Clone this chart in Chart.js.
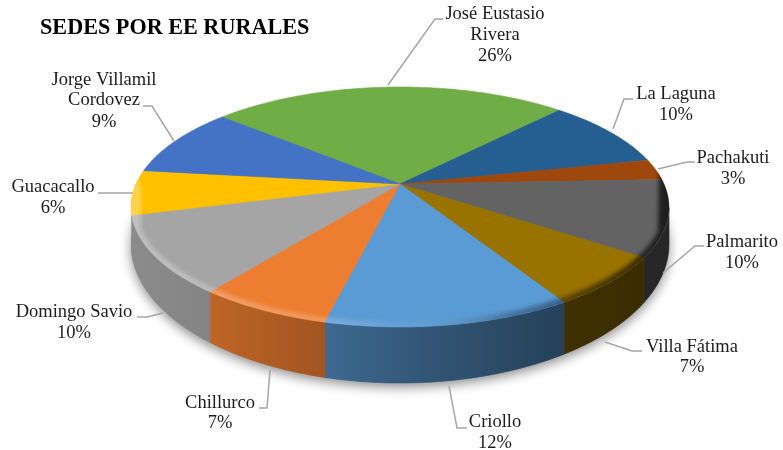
<!DOCTYPE html>
<html>
<head>
<meta charset="utf-8">
<title>Sedes por EE rurales</title>
<script src="https://cdn.jsdelivr.net/npm/chart.js@4"></script>
<style>
html, body { margin: 0; padding: 0; background: #fff; }
canvas { display: block; }
</style>
</head>
<body>
<canvas id="pie" width="783" height="450"></canvas>
<script>
// ---------- DATA ----------

const categories = ["José Eustasio Rivera", "La Laguna", "Pachakuti", "Palmarito", "Villa Fátima",
  "Criollo", "Chillurco", "Domingo Savio", "Guacacallo", "Jorge Villamil Cordovez"];
const sedes = [25.7, 9.5, 2.8, 10.2, 6.7, 12.4, 6.7, 10.4, 6.0, 9.4];
const colors = ["#70ad47", "#255e91", "#9e480e", "#636363", "#997300",
  "#5b9bd5", "#ed7d31", "#a5a5a5", "#ffc000", "#4472c4"];
const titleText = "SEDES POR EE RURALES";

// ---------- LABEL LAYOUT ----------

// text lines, centre x, centre y of each line, then the leader line
const labelLayout = [
  { lines: ["José Eustasio", "Rivera"], x: 495, y: [13, 34, 55], leader: [[443, 19], [435, 19], [388, 85]] },
  { lines: ["La Laguna"], x: 676, y: [93, 114], leader: [[633, 99], [624, 99], [613, 129]] },
  { lines: ["Pachakuti"], x: 733, y: [157, 178], leader: [[695, 162], [687, 162], [658, 169]] },
  { lines: ["Palmarito"], x: 742, y: [241, 262], leader: [[704, 246], [695, 246], [663, 273]] },
  { lines: ["Villa Fátima"], x: 692, y: [346, 366], leader: [[642, 351], [632, 351], [605, 342]] },
  { lines: ["Criollo"], x: 495, y: [421, 442], leader: [[467, 428], [457, 428], [449, 386]] },
  { lines: ["Chillurco"], x: 220, y: [402, 422], leader: [[259, 408], [267, 408], [270, 370]] },
  { lines: ["Domingo Savio"], x: 74, y: [311, 332], leader: [[137, 317], [147, 317], [163, 313]] },
  { lines: ["Guacacallo"], x: 53, y: [186, 207], leader: [[98, 193], [133, 193]] },
  { lines: ["Jorge Villamil", "Cordovez"], x: 104, y: [79, 99, 121], leader: [[143, 106], [152, 106], [174, 141]] }
];

// ---------- 3D PROJECTION ----------

const apex = { x: 400, y: 184 };     // where the slices meet
const persp = 0.1917;                // front of the disc looks larger than the back
const scaleX = 264, scaleY = 115.6;
const topRim = { x: 401, y: 207, rx: 268, ry: 120 };
const bottomRim = { x: 401, y: 244, rx: 268, ry: 139 };

function project(angle){
  let u = Math.cos(angle), v = Math.sin(angle);
  let w = 1 - persp * v;
  return { x: apex.x + scaleX * u / w, y: apex.y + scaleY * v / w };
}

function dropToBottom(p){
  let sy = (p.y - topRim.y) / topRim.ry;
  return { x: p.x, y: bottomRim.y + bottomRim.ry * sy };
}

function rimPoints(start, end){
  let pts = [];
  let steps = Math.max(2, Math.ceil((end - start) / 0.01));
  for(let i = 0; i <= steps; i++){
    pts.push(project(start + (end - start) * i / steps));
  }
  return pts;
}

function shade(hex, f){
  let n = parseInt(hex.slice(1), 16);
  let r = Math.round(((n >> 16) & 255) * f);
  let g = Math.round(((n >> 8) & 255) * f);
  let b = Math.round((n & 255) * f);
  return "rgb(" + r + "," + g + "," + b + ")";
}

function tracePolygon(ctx, pts){
  ctx.beginPath();
  pts.forEach((p, i) => i ? ctx.lineTo(p.x, p.y) : ctx.moveTo(p.x, p.y));
  ctx.closePath();
}

function wallGradient(ctx, color){
  let g = ctx.createLinearGradient(133, 0, 670, 0);
  g.addColorStop(0, shade(color, 0.84));
  g.addColorStop(0.15, shade(color, 0.8));
  g.addColorStop(0.36, shade(color, 0.68));
  g.addColorStop(0.5, shade(color, 0.58));
  g.addColorStop(0.8, shade(color, 0.42));
  g.addColorStop(1, shade(color, 0.38));
  return g;
}

// ---------- DRAW THE PIE ----------

const pie3d = {
  id: "pie3d",
  beforeDatasetsDraw(chart){
    const ctx = chart.ctx;
    const arcs = chart.getDatasetMeta(0).data;
    const total = sedes.reduce((a, b) => a + b, 0);

    let topOutline = [];
    for(let a = 0; a < Math.PI * 2; a += 0.02) topOutline.push(project(a));

    // soft shadow under the disc
    ctx.save();
    ctx.shadowColor = "rgba(0,0,0,0.45)";
    ctx.shadowBlur = 12;
    ctx.shadowOffsetY = 4;
    ctx.fillStyle = "#8e8e8e";
    tracePolygon(ctx, topOutline.map(dropToBottom));
    ctx.fill();
    ctx.restore();

    // side walls, only the front part is visible
    arcs.forEach((arc, i) => {
      let top = rimPoints(arc.startAngle, arc.endAngle).filter(p => p.y >= topRim.y);
      if(top.length < 2 || Math.max(...top.map(p => p.y)) < topRim.y + 12) return;
      let bottom = top.map(dropToBottom).reverse();
      tracePolygon(ctx, top.concat(bottom));
      ctx.fillStyle = wallGradient(ctx, colors[i]);
      ctx.strokeStyle = ctx.fillStyle;
      ctx.lineWidth = 0.6;
      ctx.fill();
      ctx.stroke();
    });

    // top of the slices
    arcs.forEach((arc, i) => {
      let pts = [apex].concat(rimPoints(arc.startAngle, arc.endAngle));
      tracePolygon(ctx, pts);
      ctx.fillStyle = arc.options.backgroundColor;
      ctx.strokeStyle = arc.options.backgroundColor;
      ctx.lineWidth = 0.6;
      ctx.fill();
      ctx.stroke();
    });

    // rounded edge between top and wall
    let bevel = ctx.createLinearGradient(133, 0, 670, 0);
    bevel.addColorStop(0, "rgba(255,255,255,0.3)");
    bevel.addColorStop(0.35, "rgba(255,255,255,0.2)");
    bevel.addColorStop(0.5, "rgba(255,255,255,0.06)");
    bevel.addColorStop(0.68, "rgba(0,0,0,0.2)");
    bevel.addColorStop(1, "rgba(0,0,0,0.7)");
    let rim = topOutline.filter(p => p.y >= topRim.y - 25);
    rim.sort((a, b) => a.x - b.x);
    ctx.save();
    tracePolygon(ctx, topOutline);
    ctx.clip();
    ctx.filter = "blur(2px)";
    ctx.strokeStyle = bevel;
    ctx.lineWidth = 10;
    ctx.beginPath();
    rim.forEach((p, i) => i ? ctx.lineTo(p.x, p.y) : ctx.moveTo(p.x, p.y));
    ctx.stroke();
    ctx.restore();

    // leader lines and labels
    ctx.save();
    ctx.strokeStyle = "#a6a6a6";
    ctx.lineWidth = 1.5;
    ctx.font = "18.5px 'Liberation Serif'";
    ctx.fillStyle = "#1c1c1c";
    ctx.textAlign = "center";
    ctx.textBaseline = "middle";
    labelLayout.forEach((lab, i) => {
      ctx.beginPath();
      lab.leader.forEach((p, j) => j ? ctx.lineTo(p[0], p[1]) : ctx.moveTo(p[0], p[1]));
      ctx.stroke();
      let text = lab.lines.concat(Math.round(sedes[i] / total * 100) + "%");
      text.forEach((t, j) => ctx.fillText(t, lab.x, lab.y[j] + 1));
    });
    ctx.restore();

    return false;
  }
};

// ---------- CHART ----------

new Chart(document.getElementById("pie"), {
  type: "pie",
  data: {
    labels: categories,
    datasets: [{ data: sedes, backgroundColor: colors, borderWidth: 0 }]
  },
  options: {
    responsive: false,
    animation: false,
    rotation: -49.3,
    layout: { padding: { left: 40 } },
    plugins: {
      legend: { display: false },
      tooltip: { enabled: false },
      title: {
        display: true,
        text: titleText,
        align: "start",
        color: "#000",
        font: { family: "'Liberation Serif'", size: 22.2, weight: "bold" },
        padding: { top: 15, bottom: 10 }
      }
    }
  },
  plugins: [pie3d]
});
</script>
</body>
</html>
